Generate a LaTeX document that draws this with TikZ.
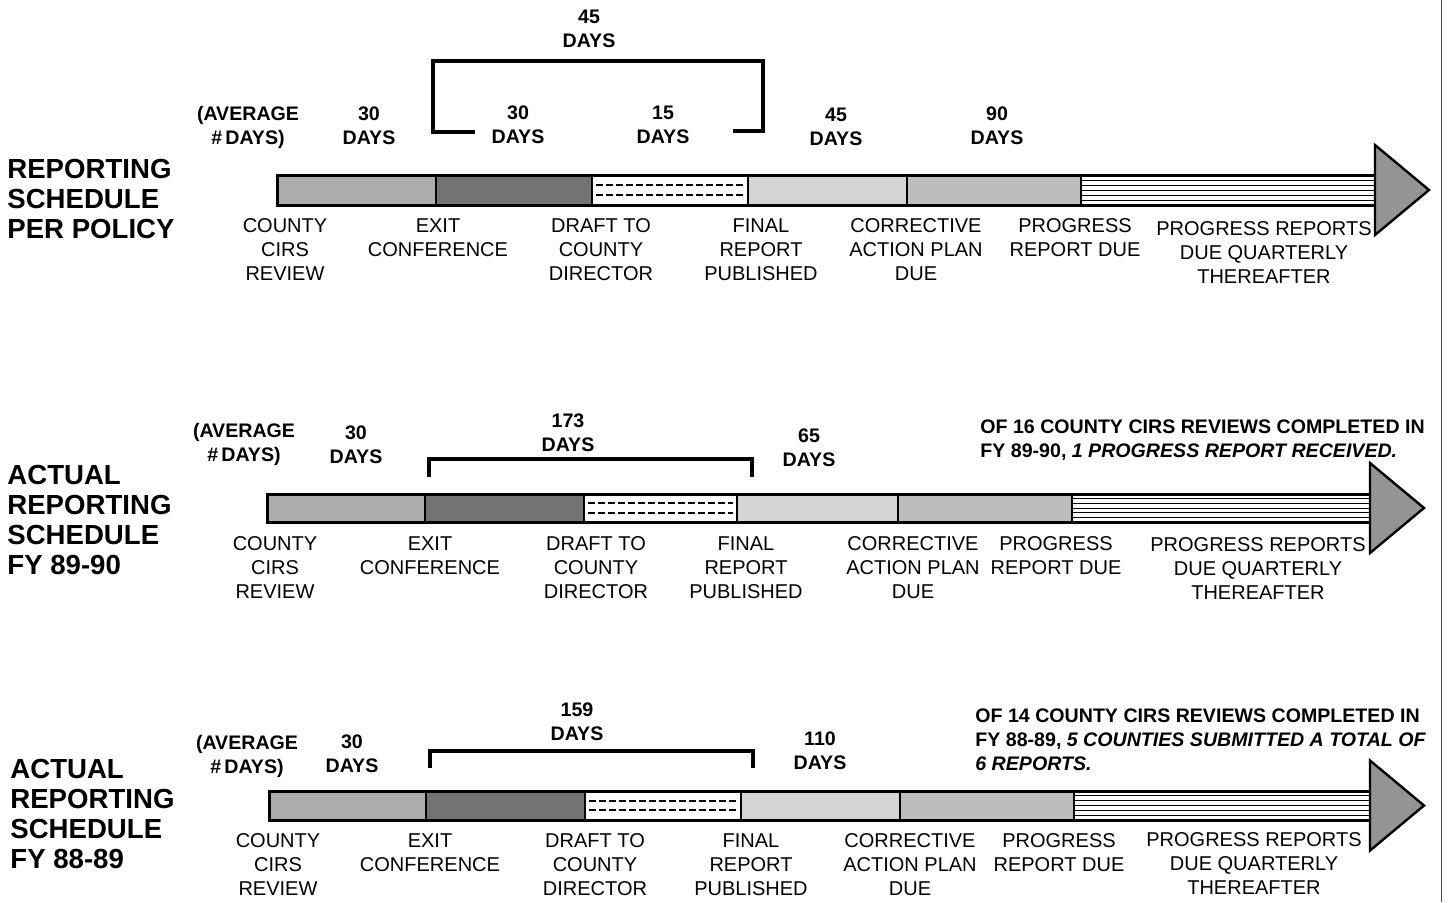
\documentclass[tikz,border=0pt]{standalone}
\usepackage{fontspec}
\setmainfont{Liberation Sans}
\newcommand\bararrow[9]{%
  % #1 top y, #2 bottom y, #3..#8 segment borders, #9 head base
  \fill[segA] (#3,#1) rectangle (#4,#2);
  \fill[segB] (#4,#1) rectangle (#5,#2);
  \fill[white] (#5,#1) rectangle (#6,#2);
  \fill[segD] (#6,#1) rectangle (#7,#2);
  \fill[segE] (#7,#1) rectangle (#8,#2);
  \fill[white] (#8,#1) rectangle (#9,#2);
  \draw[dsh] (#5+4,{#1+(#2-#1)/3}) -- (#6-4,{#1+(#2-#1)/3});
  \draw[dsh] (#5+4,{#1+2*(#2-#1)/3}) -- (#6-4,{#1+2*(#2-#1)/3});
  \foreach \k in {1,...,5}{\draw[stripe] (#8,{#1+(#2-#1)*\k/6}) -- (#9,{#1+(#2-#1)*\k/6});}
  \draw[barline] (#3,#1) rectangle (#9,#2);
  \foreach \xx in {#4,#5,#6,#7,#8}{\draw[divline] (\xx,#1) -- (\xx,#2);}
  \filldraw[headst] (#9,{(#1+#2)/2-45}) -- (#9+54,{(#1+#2)/2}) -- (#9,{(#1+#2)/2+45}) -- cycle;
}
\begin{document}
\begin{tikzpicture}[x=0.5pt,y=-0.5pt,
  lbl/.style={font=\fontsize{10}{12}\selectfont, align=center, inner sep=0pt},
  dys/.style={font=\fontsize{9.8}{12}\selectfont\bfseries, align=center, inner sep=0pt},
  ttl/.style={font=\fontsize{13.8}{15}\selectfont\bfseries, align=left, anchor=west, inner sep=0pt},
  note/.style={font=\fontsize{9.8}{12}\selectfont\bfseries, align=left, anchor=west, inner sep=0pt},
  segA/.style={fill=black!32},
  segB/.style={fill=black!55},
  segD/.style={fill=black!17},
  segE/.style={fill=black!26},
  dsh/.style={line width=1.1pt, dash pattern=on 3.5pt off 1.5pt},
  stripe/.style={line width=0.45pt},
  barline/.style={line width=1.5pt},
  divline/.style={line width=1pt},
  headst/.style={fill=black!42, draw=black, line width=1.2pt, line join=miter},
  brk/.style={line width=2pt, line cap=butt, line join=miter}]
\useasboundingbox (0,0) rectangle (1448,902);
\fill[white] (0,0) rectangle (1448,902);
\draw[line width=0.5pt, black!70] (1441,0) -- (1441,902);

% ---------------- Row 1 ----------------
\bararrow{175}{205}{277}{436}{592}{748}{907}{1081}{1375}
\node[ttl] (t1) at (7,199) {REPORTING\\SCHEDULE\\PER POLICY};
\node[dys] (avg1) at (248,127) {(AVERAGE\\\#\,DAYS)};
\node[dys] (d1a) at (369,126) {30\\DAYS};
\node[dys] (d1b) at (518,125) {30\\DAYS};
\node[dys] (d1c) at (663,125) {15\\DAYS};
\node[dys] (d1d) at (836,127) {45\\DAYS};
\node[dys] (d1e) at (997,126) {90\\DAYS};
\node[dys] (d1t) at (589,29) {45\\DAYS};
\coordinate (b1a) at (475,132);
\coordinate (b1b) at (433,132);
\coordinate (b1c) at (433,61);
\coordinate (b1d) at (763,61);
\coordinate (b1e) at (763,131);
\coordinate (b1f) at (733,131);
\draw[brk] (b1a) -- (b1b) -- (b1c) -- (b1d) -- (b1e) -- (b1f);
\node[lbl] (l1a) at (285,250) {COUNTY\\CIRS\\REVIEW};
\node[lbl] (l1b) at (438,238) {EXIT\\CONFERENCE};
\node[lbl] (l1c) at (601,250) {DRAFT TO\\COUNTY\\DIRECTOR};
\node[lbl] (l1d) at (761,250) {FINAL\\REPORT\\PUBLISHED};
\node[lbl] (l1e) at (916,250) {CORRECTIVE\\ACTION PLAN\\DUE};
\node[lbl] (l1f) at (1075,238) {PROGRESS\\REPORT DUE};
\node[lbl] (l1g) at (1264,253) {PROGRESS REPORTS\\DUE QUARTERLY\\THEREAFTER};

% ---------------- Row 2 ----------------
\bararrow{494}{522}{267}{425}{584}{737}{898}{1072}{1370}
\node[ttl] (t2) at (7,520) {ACTUAL\\REPORTING\\SCHEDULE\\FY 89-90};
\node[dys] (avg2) at (244,444) {(AVERAGE\\\#\,DAYS)};
\node[dys] (d2a) at (356,445) {30\\DAYS};
\node[dys] (d2b) at (568,433) {173\\DAYS};
\node[dys] (d2c) at (809,448) {65\\DAYS};
\coordinate (b2a) at (429,477);
\coordinate (b2b) at (429,459);
\coordinate (b2c) at (752,459);
\coordinate (b2d) at (752,477);
\draw[brk] (b2a) -- (b2b) -- (b2c) -- (b2d);
\node[note] (n2) at (980,440) {OF 16 COUNTY CIRS REVIEWS COMPLETED IN\\FY 89-90, \itshape 1 PROGRESS REPORT RECEIVED.};
\node[lbl] (l2a) at (275,568) {COUNTY\\CIRS\\REVIEW};
\node[lbl] (l2b) at (430,556) {EXIT\\CONFERENCE};
\node[lbl] (l2c) at (596,568) {DRAFT TO\\COUNTY\\DIRECTOR};
\node[lbl] (l2d) at (746,568) {FINAL\\REPORT\\PUBLISHED};
\node[lbl] (l2e) at (913,568) {CORRECTIVE\\ACTION PLAN\\DUE};
\node[lbl] (l2f) at (1056,556) {PROGRESS\\REPORT DUE};
\node[lbl] (l2g) at (1258,569) {PROGRESS REPORTS\\DUE QUARTERLY\\THEREAFTER};

% ---------------- Row 3 ----------------
\bararrow{791}{820}{269}{426}{585}{741}{900}{1074}{1370}
\node[ttl] (t3) at (10,814) {ACTUAL\\REPORTING\\SCHEDULE\\FY 88-89};
\node[dys] (avg3) at (247,756) {(AVERAGE\\\#\,DAYS)};
\node[dys] (d3a) at (352,754) {30\\DAYS};
\node[dys] (d3b) at (577,722) {159\\DAYS};
\node[dys] (d3c) at (820,751) {110\\DAYS};
\coordinate (b3a) at (430,768);
\coordinate (b3b) at (430,751);
\coordinate (b3c) at (753,751);
\coordinate (b3d) at (753,768);
\draw[brk] (b3a) -- (b3b) -- (b3c) -- (b3d);
\node[note] (n3) at (975,740) {OF 14 COUNTY CIRS REVIEWS COMPLETED IN\\FY 88-89, \itshape 5 COUNTIES SUBMITTED A TOTAL OF\\\itshape 6 REPORTS.};
\node[lbl] (l3a) at (278,865) {COUNTY\\CIRS\\REVIEW};
\node[lbl] (l3b) at (430,853) {EXIT\\CONFERENCE};
\node[lbl] (l3c) at (595,865) {DRAFT TO\\COUNTY\\DIRECTOR};
\node[lbl] (l3d) at (751,865) {FINAL\\REPORT\\PUBLISHED};
\node[lbl] (l3e) at (910,865) {CORRECTIVE\\ACTION PLAN\\DUE};
\node[lbl] (l3f) at (1059,853) {PROGRESS\\REPORT DUE};
\node[lbl] (l3g) at (1254,864) {PROGRESS REPORTS\\DUE QUARTERLY\\THEREAFTER};
\end{tikzpicture}
\end{document}
